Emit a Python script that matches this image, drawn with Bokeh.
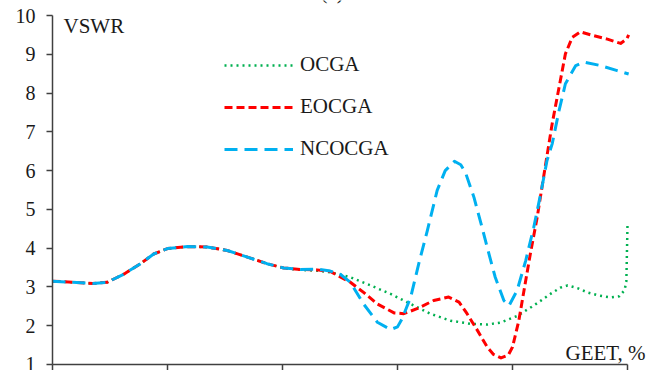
from bokeh.plotting import figure
from bokeh.models import Range1d, FixedTicker, Legend, LegendItem, Label
from bokeh.embed import file_html
from bokeh.resources import INLINE

# VSWR versus GEET (%) for the three optimisers
ocga_x = [0, 3.5, 7, 9.5, 12.4, 15.3, 17.6, 20, 23.5, 26.9, 30.4, 33.9, 37.3, 40.2, 43.1, 46.0, 48.3,
          51.8, 55.3, 58.8, 62.3, 65.7, 69.2, 72.7, 75.6, 77.9, 80.8, 83.7, 86.6, 88.3, 89.6, 91.3,
          93.0, 95.0, 97.0, 98.6, 99.5, 99.8, 100]
ocga_y = [3.15, 3.12, 3.09, 3.12, 3.33, 3.60, 3.85, 3.99, 4.04, 4.03, 3.94, 3.77, 3.60, 3.49, 3.44, 3.42, 3.38,
          3.25, 3.04, 2.82, 2.56, 2.31, 2.13, 2.05, 2.03, 2.08, 2.25, 2.52, 2.82, 2.98, 3.04, 2.97,
          2.86, 2.78, 2.73, 2.76, 2.92, 3.15, 4.6]

eocga_x = [0, 3.5, 7, 9.5, 12.4, 15.3, 17.6, 20, 23.5, 26.9, 30.4, 33.9, 37.3, 40.2, 43.1, 46.0, 48.3,
           51.8, 54.1, 56.5, 59.4, 61.1, 63.4, 66.3, 68.9, 70.7, 72.1, 73.9, 75.6, 76.7, 78.0, 79.3,
           80.0, 81.1, 82.0, 83.1, 84.3, 85.4, 86.9, 88.1, 89.2, 90.4, 91.8, 94.1, 96.5, 98.8, 99.9, 100.2]
eocga_y = [3.15, 3.12, 3.09, 3.12, 3.33, 3.60, 3.85, 3.99, 4.04, 4.03, 3.94, 3.77, 3.60, 3.49, 3.45, 3.44, 3.40,
           3.12, 2.86, 2.56, 2.33, 2.31, 2.44, 2.65, 2.74, 2.61, 2.31, 1.88, 1.45, 1.26, 1.17, 1.25,
           1.45, 2.13, 2.91, 3.85, 4.80, 5.83, 7.21, 8.15, 9.01, 9.44, 9.58, 9.48, 9.39, 9.28, 9.40, 9.50]

ncocga_x = [0, 3.5, 7, 9.5, 12.4, 15.3, 17.6, 20, 23.5, 26.9, 30.4, 33.9, 37.3, 40.2, 43.1, 46.0, 48.3,
            50.1, 51.8, 54.1, 56.5, 58.8, 60.0, 60.8, 62.3, 63.7, 65.2, 66.9, 68.3, 69.9, 71.0, 71.8,
            73.3, 74.7, 75.6, 77.0, 78.5, 79.4, 80.8, 82.3, 83.7, 84.9, 86.0, 86.9, 88.1, 89.2, 91.0,
            92.4, 95.3, 98.2, 100.2]
ncocga_y = [3.15, 3.12, 3.09, 3.12, 3.33, 3.60, 3.85, 3.99, 4.04, 4.03, 3.94, 3.77, 3.60, 3.49, 3.45, 3.46, 3.41,
            3.32, 3.12, 2.56, 2.09, 1.90, 1.97, 2.18, 2.74, 3.60, 4.46, 5.49, 6.00, 6.24, 6.15, 5.96,
            5.31, 4.54, 4.02, 3.25, 2.65, 2.52, 2.91, 3.68, 4.54, 5.40, 6.26, 6.69, 7.55, 8.24, 8.71,
            8.80, 8.71, 8.58, 8.49]

y_ticks = [1, 2, 3, 4, 5, 6, 7, 8, 9, 10]
x_ticks = [0, 20, 40, 60, 80, 100]

FONT = "Liberation Serif"
AXIS_COLOR = "#404040"
TEXT_COLOR = "#1a1a1a"

p = figure(width=662, height=370,
           x_range=Range1d(0, 104), y_range=Range1d(1, 10.387),
           output_backend="svg", toolbar_location=None,
           min_border_left=52, min_border_right=12,
           min_border_top=0, min_border_bottom=0)
p.grid.visible = False
p.outline_line_color = None
p.background_fill_color = "white"
p.border_fill_color = "white"

yax = p.yaxis[0]
yax.ticker = FixedTicker(ticks=y_ticks)
yax.bounds = (1, 10)
yax.major_tick_out = 6
yax.major_tick_in = 0
yax.minor_tick_out = 0
yax.minor_tick_in = 0
yax.major_label_standoff = 11
yax.major_label_text_font = FONT
yax.major_label_text_font_size = "20px"
yax.major_label_text_color = TEXT_COLOR
yax.axis_line_color = AXIS_COLOR
yax.axis_line_width = 1.5
yax.major_tick_line_color = AXIS_COLOR
yax.major_tick_line_width = 1.5

# horizontal axis: tick marks only, no tick labels
xax = p.xaxis[0]
xax.ticker = FixedTicker(ticks=x_ticks)
xax.bounds = (0, 100)
xax.major_tick_out = 6
xax.major_tick_in = 0
xax.minor_tick_out = 0
xax.minor_tick_in = 0
xax.major_label_standoff = 0
xax.major_label_overrides = {t: "" for t in x_ticks}
xax.major_label_text_font_size = "1px"
xax.axis_line_color = AXIS_COLOR
xax.axis_line_width = 1.5
xax.major_tick_line_color = AXIS_COLOR
xax.major_tick_line_width = 1.5

r_ocga = p.line(ocga_x, ocga_y, line_color="#00B050", line_width=2.5, line_dash="2 4")
r_eocga = p.line(eocga_x, eocga_y, line_color="#FF0000", line_width=3, line_dash="8 4",
                 line_join="round")
r_ncocga = p.line(ncocga_x, ncocga_y, line_color="#00B0F0", line_width=3, line_dash="13 7",
                  line_join="round")

legend = Legend(items=[LegendItem(label="OCGA", renderers=[r_ocga]),
                       LegendItem(label="EOCGA", renderers=[r_eocga]),
                       LegendItem(label="NCOCGA", renderers=[r_ncocga])],
                location=(172, 203), orientation="vertical",
                glyph_width=69, glyph_height=20, label_height=20, label_standoff=7,
                spacing=17, padding=0, margin=0,
                label_text_font=FONT, label_text_font_size="21px", label_text_color=TEXT_COLOR,
                border_line_color=None, background_fill_alpha=0)
p.add_layout(legend, "center")

p.add_layout(Label(x=11, y=339, x_units="screen", y_units="screen", text="VSWR",
                   text_font=FONT, text_font_size="21px", text_color=TEXT_COLOR,
                   text_baseline="alphabetic"))
p.add_layout(Label(x=513, y=12, x_units="screen", y_units="screen", text="GEET, %",
                   text_font=FONT, text_font_size="21px", text_color=TEXT_COLOR,
                   text_baseline="alphabetic"))
p.add_layout(Label(x=268, y=373, x_units="screen", y_units="screen", text="(a)",
                   text_font=FONT, text_font_size="21px", text_color=TEXT_COLOR,
                   text_baseline="alphabetic"))

open("out.html", "w").write(file_html(p, INLINE))
